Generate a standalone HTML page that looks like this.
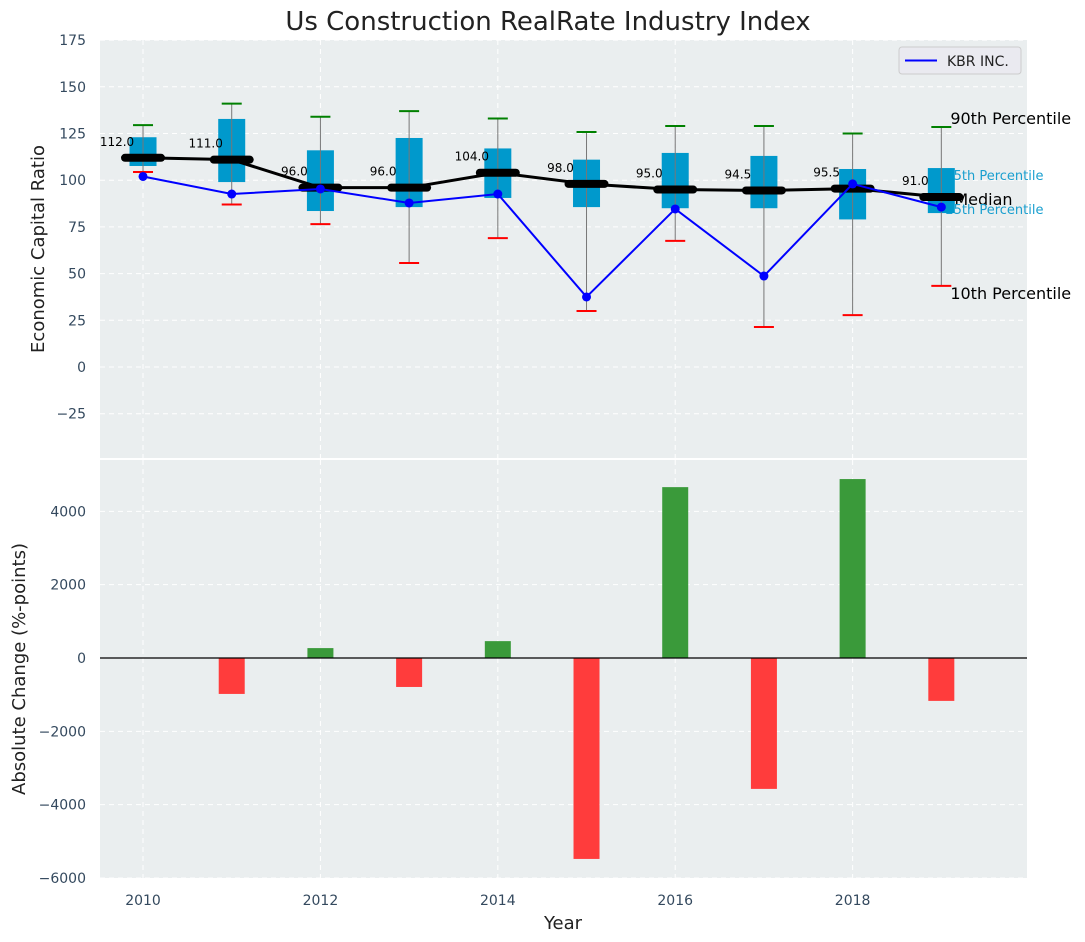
<!DOCTYPE html>
<html><head><meta charset="utf-8"><style>
body{margin:0;background:#fff;}
svg{font-family:"DejaVu Sans","Liberation Sans",sans-serif;display:block}
</style></head><body>
<svg id="c" width="1085" height="942" viewBox="0 0 1085 942">
<text x="548" y="30" font-size="26" text-anchor="middle" fill="#222">Us Construction RealRate Industry Index</text>
<rect x="100" y="40" width="927" height="418" fill="#eaeeef"/>
<rect x="100" y="460" width="927" height="418" fill="#eaeeef"/>
<g id="gtop"></g><g id="gbot"></g>
<text transform="translate(44,249) rotate(-90)" font-size="18" text-anchor="middle" fill="#222">Economic Capital Ratio</text>
<text transform="translate(25,669) rotate(-90)" font-size="18" text-anchor="middle" fill="#222">Absolute Change (%-points)</text>
<text x="563" y="929" font-size="18" text-anchor="middle" fill="#222">Year</text>
<g>
<rect x="899" y="47" width="122" height="27" rx="3" fill="#eaeaf0" stroke="#ccc"/>
<line x1="905" y1="60.5" x2="937" y2="60.5" stroke="#0000ff" stroke-width="2"/>
<text x="947" y="66" font-size="14" fill="#222">KBR INC.</text>
</g>
</svg>
<script>
const years=[2010,2011,2012,2013,2014,2015,2016,2017,2018,2019];
const p90=[129.5,141,134,137,133,125.8,129,129,125,128.5];
const q75=[123,132.8,116,122.6,117,111,114.6,113,106,106.5];
const medians=[112,111,96,96,104,98,95,94.5,95.5,91];
const q25=[107.6,99,83.5,85.6,90.5,85.6,85,85,79,82.4];
const p10=[104.4,87,76.5,55.7,69,30,67.5,21.4,27.8,43.4];
const kbr=[102,92.6,95.3,87.8,92.6,37.5,84.6,48.7,98,85.6];
const changes=[0,-980,270,-790,460,-5480,4660,-3570,4880,-1170];
const yTicksTop=[175,150,125,100,75,50,25,0,-25];
const yTicksBot=[4000,2000,0,-2000,-4000,-6000];
const xTicks=[2010,2012,2014,2016,2018];

const NS="http://www.w3.org/2000/svg";
const X=v=>100+(v-2009.515)*88.7;
const Yt=v=>367-v*1.868;
const Yb=v=>658-v*0.036667;
function mk(p,tag,a){const e=document.createElementNS(NS,tag);for(const k in a)e.setAttribute(k,a[k]);p.appendChild(e);return e;}
const gTop=document.getElementById('gtop'),gBot=document.getElementById('gbot');
yTicksTop.forEach(t=>{const y=Yt(t);
 const g=mk(gTop,'line',{x1:100,x2:1027,y1:y,y2:y,stroke:'#fff','stroke-dasharray':'5,4','stroke-width':1});
 
 const l=mk(gTop,'text',{x:86,y:y+5,'font-size':14,'text-anchor':'end',fill:'#34495e'});l.textContent=t<0?'\u2212'+(-t):t;
 });
yTicksBot.forEach(t=>{const y=Yb(t);
 const g=mk(gBot,'line',{x1:100,x2:1027,y1:y,y2:y,stroke:'#fff','stroke-dasharray':'5,4','stroke-width':1});
 
 const l=mk(gBot,'text',{x:86,y:y+5,'font-size':14,'text-anchor':'end',fill:'#34495e'});l.textContent=t<0?'\u2212'+(-t):t;
 });
xTicks.forEach(t=>{const x=X(t);
 [[40,458],[460,878]].forEach(r=>{const g=mk(gTop,'line',{x1:x,x2:x,y1:r[0],y2:r[1],stroke:'#fff','stroke-dasharray':'5,4'});
 });
 const l=mk(gBot,'text',{x:x,y:905,'font-size':14,'text-anchor':'middle',fill:'#34495e'});l.textContent=t;
 });
const li=years.length-1,lx=X(years[li])+9;
[['90th Percentile',p90[li],'#000',16,-3,0],['75th Percentile',q75[li],'#1a9fcf',13,12,-5],['Median',medians[li],'#000',16,8,4],['25th Percentile',q25[li],'#1a9fcf',13,1,-5],['10th Percentile',p10[li],'#000',16,13,0]].forEach(a=>{
 const t=mk(gTop,'text',{x:lx+a[5],y:Yt(a[1])+a[4],'font-size':a[3],fill:a[2]});t.textContent=a[0];
 });
years.forEach((yr,i)=>{const x=X(yr);
 const b=mk(gTop,'rect',{x:x-13.5,y:Yt(q75[i]),width:27,height:Yt(q25[i])-Yt(q75[i]),fill:'#0099cc'});
 
 const w=mk(gTop,'line',{x1:x,x2:x,y1:Yt(p90[i]),y2:Yt(p10[i]),stroke:'#777','stroke-width':1});
 
 const c1=mk(gTop,'line',{x1:x-10,x2:x+10,y1:Yt(p90[i]),y2:Yt(p90[i]),stroke:'#008000','stroke-width':2});
 
 const c2=mk(gTop,'line',{x1:x-10,x2:x+10,y1:Yt(p10[i]),y2:Yt(p10[i]),stroke:'#ff0000','stroke-width':2});
 
});
const mp=mk(gTop,'polyline',{points:years.map((y,i)=>X(y)+','+Yt(medians[i])).join(' '),fill:'none',stroke:'#000','stroke-width':3});

years.forEach((yr,i)=>{const x=X(yr),y=Yt(medians[i]);
 const m=mk(gTop,'line',{x1:x-18,x2:x+18,y1:y,y2:y,stroke:'#000','stroke-width':8,'stroke-linecap':'round'});
 
 const t=mk(gTop,'text',{x:x-26,y:y-12,'font-size':12,'text-anchor':'middle',fill:'#000'});t.textContent=medians[i].toFixed(1);
 });
const kp=mk(gTop,'polyline',{points:years.map((y,i)=>X(y)+','+Yt(kbr[i])).join(' '),fill:'none',stroke:'#0000ff','stroke-width':2});

years.forEach((yr,i)=>{const c=mk(gTop,'circle',{cx:X(yr),cy:Yt(kbr[i]),r:4.5,fill:'#0000ff'});
 });
years.forEach((yr,i)=>{const v=changes[i];if(!v)return;const y0=Yb(0),y1=Yb(v);
 const r=mk(gBot,'rect',{x:X(yr)-13,y:Math.min(y0,y1),width:26,height:Math.abs(y1-y0),fill:v>0?'#3a9a3a':'#ff3c3c'});
 });
const z=mk(gBot,'line',{x1:100,x2:1027,y1:Yb(0),y2:Yb(0),stroke:'#000','stroke-width':1.2});

</script>
</body></html>
